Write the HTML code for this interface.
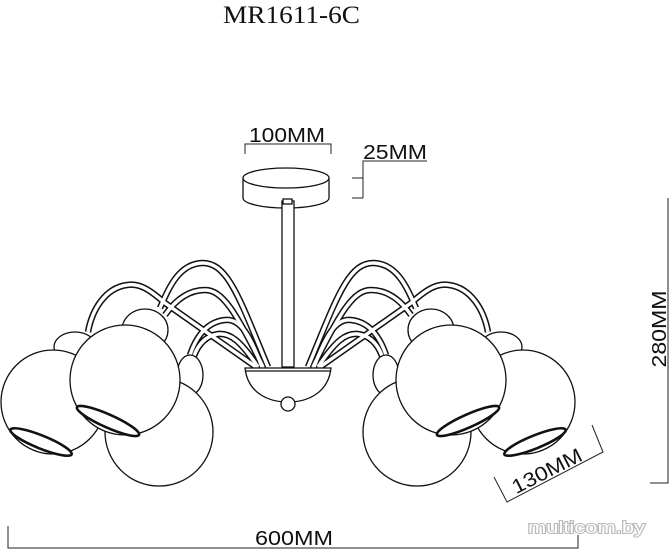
<!DOCTYPE html>
<html><head><meta charset="utf-8"><style>
html,body{margin:0;padding:0;background:#fff;}
svg{display:block;}
text{font-family:"Liberation Sans",sans-serif;fill:#111;}
</style></head><body>
<svg width="670" height="550" viewBox="0 0 670 550" xmlns="http://www.w3.org/2000/svg">
<rect width="670" height="550" fill="#fff"/>
<text x="223" y="23" textLength="137" lengthAdjust="spacingAndGlyphs" style="font-family:'Liberation Serif',serif;font-size:25px">MR1611-6C</text>
<text x="249" y="142" font-size="20" textLength="76" lengthAdjust="spacingAndGlyphs">100MM</text>
<path d="M245 154 V144 H331 V154" fill="none" stroke="#222" stroke-width="1"/>
<text x="363" y="159" font-size="20" textLength="64" lengthAdjust="spacingAndGlyphs">25MM</text>
<path d="M427 161 H363 V198 M352 178 H363 M352 198 H363" fill="none" stroke="#222" stroke-width="1"/>
<g fill="#fff" stroke="#111" stroke-width="1.3">
<path d="M243 178 V198 A43 10 0 0 0 329 198 V178"/>
<ellipse cx="286" cy="178" rx="43" ry="10"/>
<rect x="282" y="201" width="12" height="166"/>
<rect x="283" y="199" width="9" height="5"/>
</g>
<g id="half">
<g fill="none" stroke-linecap="butt">
<g stroke="#111" stroke-width="6.5">
<path d="M268 367 C 240 300, 228 262, 202 263 C 178 264, 168 290, 160 308"/>
<path d="M256 367 L 165 303 C 150 290, 140 283, 127 285 C 105 288, 92 310, 88 332"/>
<path d="M262 367 C 250 335, 240 318, 225 320 C 205 322, 195 340, 190 355"/>
<path d="M263 367 C 235 310, 222 290, 205 290 C 185 290, 172 305, 165 315"/>
<path d="M258 367 C 240 340, 230 333, 218 334 C 205 336, 198 345, 194 356"/>
</g>
<g stroke="#fff" stroke-width="3.5">
<path d="M268 367 C 240 300, 228 262, 202 263 C 178 264, 168 290, 160 308"/>
<path d="M256 367 L 165 303 C 150 290, 140 283, 127 285 C 105 288, 92 310, 88 332"/>
<path d="M262 367 C 250 335, 240 318, 225 320 C 205 322, 195 340, 190 355"/>
<path d="M263 367 C 235 310, 222 290, 205 290 C 185 290, 172 305, 165 315"/>
<path d="M258 367 C 240 340, 230 333, 218 334 C 205 336, 198 345, 194 356"/>
</g>
</g>
<g fill="#fff" stroke="#111" stroke-width="1.3">
<ellipse cx="190" cy="375" rx="13" ry="20"/>
<circle cx="159" cy="432" r="54"/>
<ellipse cx="75" cy="347" rx="21" ry="15"/>
<circle cx="53" cy="402" r="52"/>
<ellipse cx="41" cy="442" rx="33" ry="6.5" transform="rotate(22 41 442)" stroke-width="2.6"/>
<ellipse cx="145" cy="330" rx="23" ry="21"/>
<circle cx="125" cy="380" r="55"/>
<ellipse cx="108" cy="421" rx="34" ry="6.5" transform="rotate(24 108 421)" stroke-width="2.6"/>
</g>
</g>
<use href="#half" transform="translate(576 0) scale(-1 1)"/>
<g fill="#fff" stroke="#111" stroke-width="1.3">
<path d="M245 368 H331 C 328 395, 305 402, 288 402 C 271 402, 248 395, 245 368 Z"/>
<line x1="246" y1="371" x2="330" y2="371"/>
<circle cx="288" cy="404" r="7"/>
</g>
<text transform="translate(666 329) rotate(-90)" text-anchor="middle" font-size="20" textLength="77" lengthAdjust="spacingAndGlyphs">280MM</text>
<path d="M668 198 V483 H650" fill="none" stroke="#222" stroke-width="1"/>
<path d="M494 477 L507 502 L603 452 L592 425" fill="none" stroke="#222" stroke-width="1"/>
<text transform="translate(550 477) rotate(-27)" text-anchor="middle" font-size="20" textLength="76" lengthAdjust="spacingAndGlyphs">130MM</text>
<text x="255" y="545" font-size="20" textLength="78" lengthAdjust="spacingAndGlyphs">600MM</text>
<path d="M8 526 V548 H578 V535" fill="none" stroke="#222" stroke-width="1"/>
<text x="528" y="533" font-size="17" textLength="117" lengthAdjust="spacingAndGlyphs" style="fill:#fff;stroke:#bbb;stroke-width:2;paint-order:stroke">multicom.by</text>
</svg>
</body></html>
